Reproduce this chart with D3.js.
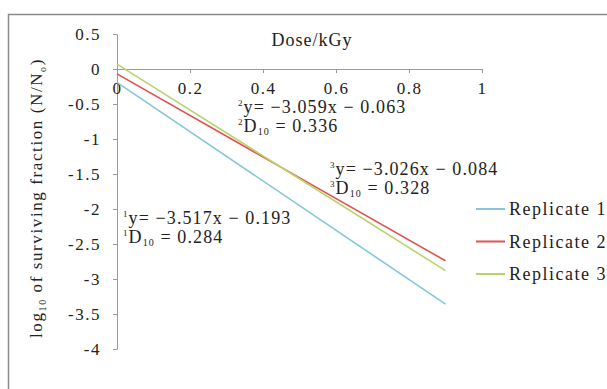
<!DOCTYPE html>
<html>
<head>
<meta charset="utf-8">
<script src="https://cdn.jsdelivr.net/npm/d3@7"></script>
<style>
  body { margin: 0; background: #fff; }
  text { font-family: "Liberation Serif", "Times New Roman", serif; fill: #222; }
</style>
</head>
<body>
<div id="chart"></div>
<script>
// data
const doses = [0, 0.9];
const rep1 = [-0.19, -3.36];
const rep2 = [-0.07, -2.74];
const rep3 = [0.07, -2.88];
const seriesNames = ['Replicate 1', 'Replicate 2', 'Replicate 3'];
const seriesColors = ['#86c6dc', '#e05252', '#b7d46c'];
const xTicks = [0, 0.2, 0.4, 0.6, 0.8, 1];
const yTicks = [0.5, 0, -0.5, -1, -1.5, -2, -2.5, -3, -3.5, -4];
const eqNums = ['1', '2', '3'];
const eqLines = ['y= \u22123.517x \u2212 0.193', 'y= \u22123.059x \u2212 0.063', 'y= \u22123.026x \u2212 0.084'];
const d10Values = ['0.284', '0.336', '0.328'];

const width = 607, height = 389;
const svg = d3.select('#chart').append('svg')
  .attr('width', width)
  .attr('height', height);

// outer frame
svg.append('rect')
  .attr('x', 8.5).attr('y', 14.5)
  .attr('width', 606).attr('height', 390)
  .attr('fill', 'none')
  .attr('stroke', '#8a8a8a')
  .attr('stroke-width', 1.5);

const x = d3.scaleLinear().domain([0, 1]).range([117, 482]);
const y = d3.scaleLinear().domain([-4, 0.5]).range([349, 34]);

// y axis
const yAxis = svg.append('g')
  .attr('transform', 'translate(' + x(0) + ',0)')
  .call(d3.axisLeft(y).tickValues(yTicks).tickSizeInner(4).tickSizeOuter(0).tickPadding(12)
    .tickFormat(d => String(d)));
yAxis.select('.domain').attr('stroke', '#9a9a9a');
yAxis.selectAll('.tick line').attr('stroke', '#9a9a9a');
yAxis.selectAll('.tick text')
  .style('font-size', '17px')
  .style('letter-spacing', '1.5px')
  .attr('dy', '0.34em')
  .attr('fill', '#222');

// x axis sits at y = 0
const xAxis = svg.append('g')
  .attr('transform', 'translate(0,' + y(0) + ')')
  .call(d3.axisBottom(x).tickValues(xTicks).tickSizeInner(4).tickSizeOuter(0).tickPadding(9)
    .tickFormat(d => String(d)));
xAxis.select('.domain').attr('stroke', '#9a9a9a');
xAxis.selectAll('.tick line').attr('stroke', '#9a9a9a');
xAxis.selectAll('.tick text')
  .style('font-size', '17px')
  .style('letter-spacing', '1.5px')
  .attr('fill', '#222');

// axis titles
svg.append('text')
  .attr('x', 312).attr('y', 46)
  .attr('text-anchor', 'middle')
  .style('font-size', '18px')
  .style('letter-spacing', '1px')
  .text('Dose/kGy');

const yt = svg.append('text')
  .attr('transform', 'translate(42,198) rotate(-90)')
  .attr('text-anchor', 'middle')
  .style('font-size', '17px')
  .style('letter-spacing', '1.6px');
yt.append('tspan').text('log');
yt.append('tspan').attr('dy', 4).style('font-size', '10px').text('10');
yt.append('tspan').attr('dy', -4).text(' of surviving fraction (N/N');
yt.append('tspan').attr('dy', 4).style('font-size', '10px').text('o');
yt.append('tspan').attr('dy', -4).text(')');

// regression lines
const series = [rep1, rep2, rep3];
const line = d3.line()
  .x((d, i) => x(doses[i]))
  .y(d => y(d));

svg.append('g').selectAll('path')
  .data(series)
  .enter()
  .append('path')
  .attr('d', d => line(d))
  .attr('fill', 'none')
  .attr('stroke', (d, i) => seriesColors[i])
  .attr('stroke-width', 1.6);

// equations
const eqPos = [[123, 224], [238, 113], [330, 175]];
eqNums.forEach((n, i) => {
  const g = svg.append('g')
    .attr('transform', 'translate(' + eqPos[i][0] + ',' + eqPos[i][1] + ')');
  const t1 = g.append('text').style('font-size', '18px').style('letter-spacing', '1.1px');
  t1.append('tspan').attr('dy', -7).style('font-size', '9px').text(n);
  t1.append('tspan').attr('dy', 7).text(eqLines[i]);
  const t2 = g.append('text').attr('y', 19).style('font-size', '18px').style('letter-spacing', '1.1px');
  t2.append('tspan').attr('dy', -7).style('font-size', '9px').text(n);
  t2.append('tspan').attr('dy', 7).text('D');
  t2.append('tspan').attr('dy', 3).style('font-size', '10px').text('10');
  t2.append('tspan').attr('dy', -3).text(' = ' + d10Values[i]);
});

// legend
const legend = svg.append('g')
  .selectAll('.legend')
  .data(seriesNames)
  .enter()
  .append('g')
  .attr('class', 'legend')
  .attr('transform', (d, i) => 'translate(476,' + (209 + i * 32.5) + ')');

legend.append('line')
  .attr('x1', 0).attr('x2', 29)
  .attr('stroke', (d, i) => seriesColors[i])
  .attr('stroke-width', 2);

legend.append('text')
  .attr('x', 33).attr('y', 6)
  .style('font-size', '18px')
  .style('letter-spacing', '1.5px')
  .text(d => d);
</script>
</body>
</html>
